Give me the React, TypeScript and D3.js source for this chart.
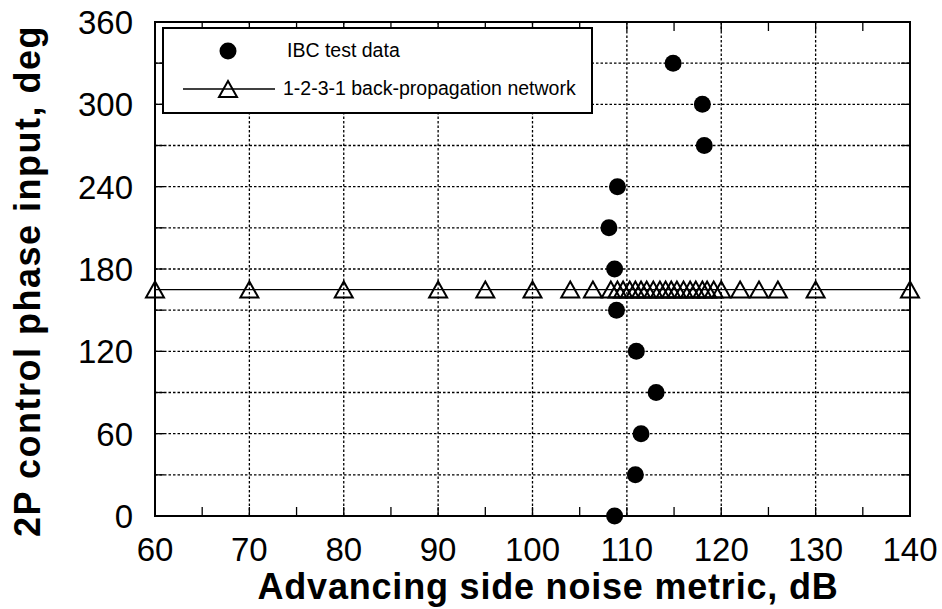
import React from "react";
import * as d3 from "d3";

const ibcX = [108.7, 110.9, 111.5, 113.1, 111.0, 108.9, 108.7, 108.1, 109.0, 118.2, 118.0, 114.9];
const ibcY = [0, 30, 60, 90, 120, 150, 180, 210, 240, 270, 300, 330];

const netX = [60, 70, 80, 90, 95, 100, 104, 106.4, 108.3, 109.0, 109.6, 110.3, 110.9, 111.5, 112.1, 112.8, 113.5, 114.1, 114.7, 115.3, 116.0, 116.7, 117.3, 118.0, 118.5, 119.2, 120, 122, 124, 126, 130, 140];
const netY = netX.map(() => 165);

const xTicks = [60, 70, 80, 90, 100, 110, 120, 130, 140];
const yTicks = [0, 60, 120, 180, 240, 300, 360];
const xGrid = [70, 80, 90, 100, 110, 120, 130];
const yGrid = [30, 60, 90, 120, 150, 180, 210, 240, 270, 300, 330];
const xMinor = d3.range(65, 140, 5);
const ySide = d3.range(30, 360, 30);

const L = 155, R = 910, T = 22, B = 516;

function tri(cx: number, cy: number, w = 18, h = 16) {
  return `M${cx},${cy - h / 2} L${cx + w / 2},${cy + h / 2} L${cx - w / 2},${cy + h / 2} Z`;
}

export default function App() {
  const x = d3.scaleLinear().domain([60, 140]).range([L, R]);
  const y = d3.scaleLinear().domain([0, 360]).range([B, T]);
  const font = "'Liberation Sans', Arial, Helvetica, sans-serif";
  const line = d3.line<number>().x((d) => x(d)).y((_, i) => y(netY[i]));
  return (
    <svg width={942} height={609} style={{ position: "absolute", left: 0, top: 0, background: "#fff" }} fontFamily={font}>
      <rect x={0} y={0} width={942} height={609} fill="#fff" />
      {xGrid.map((v) => (
        <line key={"gx" + v} x1={x(v)} x2={x(v)} y1={T} y2={B} stroke="#000" strokeWidth={1.3} strokeDasharray="2.5,2" />
      ))}
      {yGrid.map((v) => (
        <line key={"gy" + v} x1={L} x2={R} y1={y(v)} y2={y(v)} stroke="#000" strokeWidth={1.3} strokeDasharray="2.5,2" />
      ))}
      {xMinor.map((v) => (
        <g key={"mx" + v}>
          <line x1={x(v)} x2={x(v)} y1={B} y2={B - 9} stroke="#000" strokeWidth={1.3} />
          <line x1={x(v)} x2={x(v)} y1={T} y2={T + 9} stroke="#000" strokeWidth={1.3} />
        </g>
      ))}
      {ySide.map((v) => (
        <g key={"my" + v}>
          <line x1={L} x2={L + 9} y1={y(v)} y2={y(v)} stroke="#000" strokeWidth={1.3} />
          <line x1={R} x2={R - 9} y1={y(v)} y2={y(v)} stroke="#000" strokeWidth={1.3} />
        </g>
      ))}
      <rect x={L} y={T} width={R - L} height={B - T} fill="none" stroke="#000" strokeWidth={2} />
      <path d={line(netX) || ""} fill="none" stroke="#000" strokeWidth={1.4} />
      {netX.map((v, i) => (
        <path key={"t" + i} d={tri(x(v), y(netY[i]))} fill="none" stroke="#000" strokeWidth={2} strokeLinejoin="miter" />
      ))}
      {ibcX.map((v, i) => (
        <circle key={"c" + i} cx={x(v)} cy={y(ibcY[i])} r={8.5} fill="#000" />
      ))}
      <rect x={163} y={28} width={429} height={85} fill="#fff" stroke="#000" strokeWidth={2} />
      <circle cx={228} cy={51} r={8.5} fill="#000" />
      <text x={287} y={57} fontSize={19.5}>IBC test data</text>
      <line x1={183} x2={275} y1={89} y2={89} stroke="#000" strokeWidth={1.4} />
      <path d={tri(228, 89)} fill="none" stroke="#000" strokeWidth={2} />
      <text x={283} y={95} fontSize={19.5}>1-2-3-1 back-propagation network</text>
      {xTicks.map((v) => (
        <text key={"xt" + v} x={x(v)} y={561} fontSize={33} textAnchor="middle">{v}</text>
      ))}
      {yTicks.map((v) => (
        <text key={"yt" + v} x={133} y={y(v) + 12} fontSize={33} textAnchor="end">{v}</text>
      ))}
      <text x={548} y={599} fontSize={36} fontWeight="bold" textAnchor="middle" style={{ letterSpacing: "0.8px" }}>Advancing side noise metric, dB</text>
      <text transform={`translate(40,281) rotate(-90)`} fontSize={36} fontWeight="bold" textAnchor="middle" style={{ letterSpacing: "1.5px" }}>2P control phase input, deg</text>
    </svg>
  );
}
